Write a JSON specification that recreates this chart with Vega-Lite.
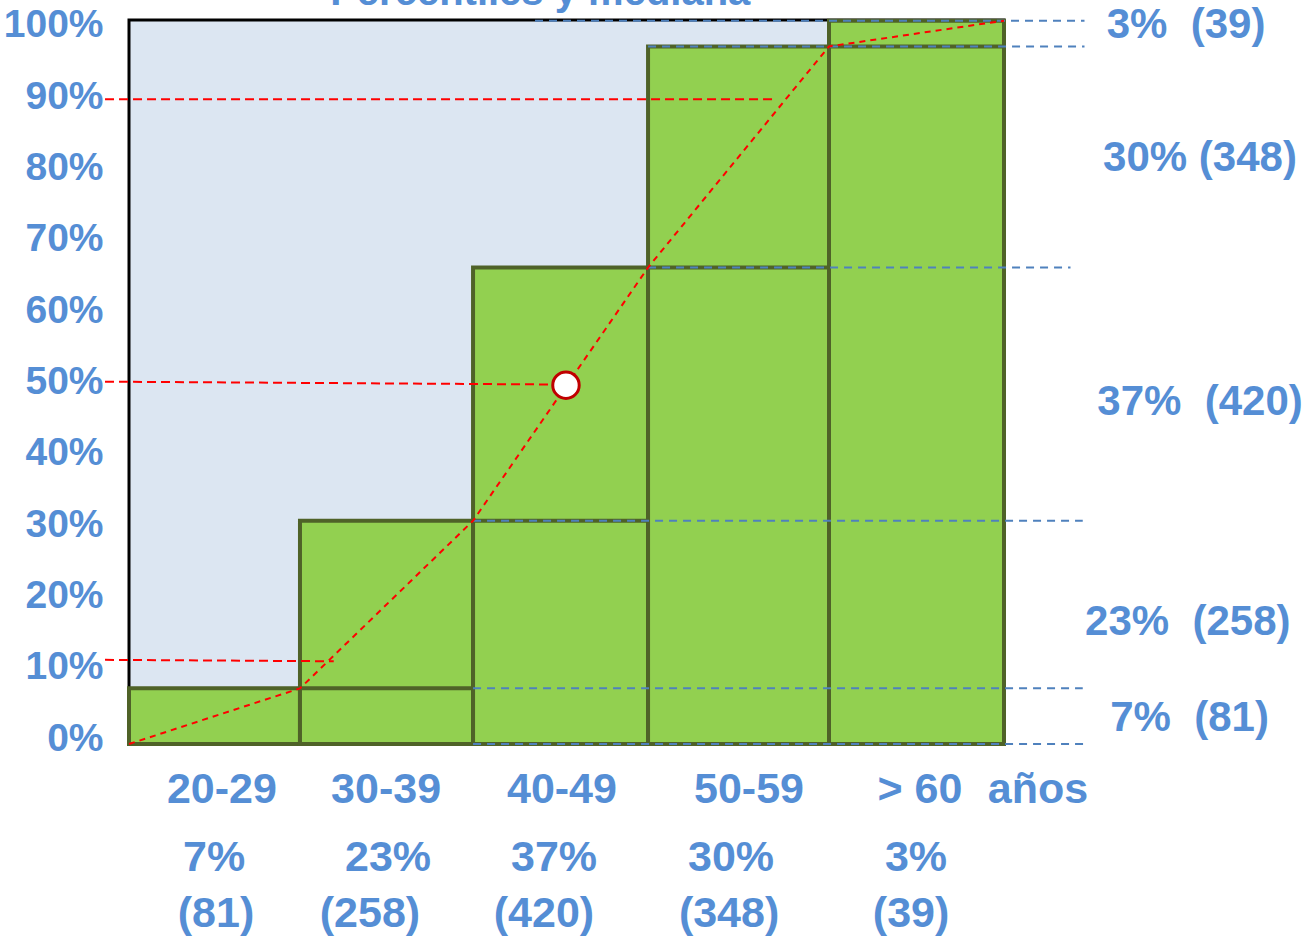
{
  "$schema": "https://vega.github.io/schema/vega-lite/v6.json",
  "autosize": "none",
  "width": 875,
  "height": 724,
  "padding": {"left": 129, "top": 20, "right": 304, "bottom": 193},
  "background": "white",
  "view": {"fill": "#DCE6F2", "stroke": "#000000", "strokeWidth": 3},
  "datasets": {
    "barras": [
      {"grupo": "20-29", "x": 0, "x2": 0.977, "y": 7},
      {"grupo": "30-39", "x": 0.977, "x2": 1.966, "y": 30.5},
      {"grupo": "40-49", "x": 1.966, "x2": 2.966, "y": 66},
      {"grupo": "50-59", "x": 2.966, "x2": 4.0, "y": 97},
      {"grupo": "> 60", "x": 4.0, "x2": 5.0, "y": 100.6}
    ],
    "divisores": [
      {"grupo": "30-39", "x": 0.977, "x2": 1.966, "y": 7},
      {"grupo": "40-49", "x": 1.966, "x2": 2.966, "y": 30.5},
      {"grupo": "50-59", "x": 2.966, "x2": 4.0, "y": 66},
      {"grupo": "> 60", "x": 4.0, "x2": 5.0, "y": 97}
    ],
    "ogive": [
      {"x": 0, "y": -0.8},
      {"x": 0.977, "y": 7},
      {"x": 1.966, "y": 30.5},
      {"x": 2.966, "y": 66},
      {"x": 4.0, "y": 97},
      {"x": 5.0, "y": 100.6}
    ],
    "percentiles": [
      {"p": "P90", "x": -0.137, "x2": 3.7, "y": 89.6, "y2": 89.6},
      {"p": "P50", "x": -0.137, "x2": 2.43, "y": 50, "y2": 49.6},
      {"p": "P10", "x": -0.137, "x2": 1.17, "y": 11, "y2": 10.8}
    ],
    "niveles": [
      {"x": 2.32, "x2": 5.46, "y": 100.6},
      {"x": 2.966, "x2": 5.46, "y": 97},
      {"x": 2.966, "x2": 5.38, "y": 66},
      {"x": 1.966, "x2": 5.45, "y": 30.5},
      {"x": 1.966, "x2": 5.45, "y": 7},
      {"x": 1.966, "x2": 5.46, "y": -0.8}
    ],
    "mediana": [{"x": 2.497, "y": 49.5}],
    "derecha": [
      {"t": "3%\u00a0 (39)", "x": 6.04, "y": 100.0},
      {"t": "30% (348)", "x": 6.12, "y": 81.35},
      {"t": "37%\u00a0 (420)", "x": 6.12, "y": 47.15},
      {"t": "23%\u00a0 (258)", "x": 6.05, "y": 16.3},
      {"t": "7%\u00a0 (81)", "x": 6.06, "y": 2.85}
    ],
    "abajo": [
      {"t": "20-29", "x": 0.531, "y": -7.25},
      {"t": "30-39", "x": 1.469, "y": -7.25},
      {"t": "40-49", "x": 2.474, "y": -7.25},
      {"t": "50-59", "x": 3.543, "y": -7.25},
      {"t": "> 60", "x": 4.52, "y": -7.25},
      {"t": "años", "x": 5.194, "y": -7.25},
      {"t": "7%", "x": 0.486, "y": -16.8},
      {"t": "23%", "x": 1.48, "y": -16.8},
      {"t": "37%", "x": 2.429, "y": -16.8},
      {"t": "30%", "x": 3.44, "y": -16.8},
      {"t": "3%", "x": 4.497, "y": -16.8},
      {"t": "(81)", "x": 0.497, "y": -24.7},
      {"t": "(258)", "x": 1.377, "y": -24.7},
      {"t": "(420)", "x": 2.371, "y": -24.7},
      {"t": "(348)", "x": 3.429, "y": -24.7},
      {"t": "(39)", "x": 4.469, "y": -24.7}
    ],
    "titulo": [{"t": "Percentiles y mediana", "x": 2.35, "y": 102.8}]
  },
  "encoding": {
    "x": {"field": "x", "type": "quantitative", "scale": {"domain": [0, 5], "nice": false, "zero": false}, "axis": null},
    "y": {"field": "y", "type": "quantitative", "title": null,
      "scale": {"domain": [-0.8, 100.7], "nice": false, "zero": false},
      "axis": {"values": [0, 10, 20, 30, 40, 50, 60, 70, 80, 90, 100], "labelExpr": "datum.value + '%'", "domain": false, "ticks": false, "grid": false,
        "labelFont": "Liberation Sans", "labelFontSize": 39, "labelFontWeight": "bold", "labelColor": "#558ED5", "labelPadding": 26,
        "labelOverlap": false, "labelFlush": false, "labelBound": false}}
  },
  "layer": [
    {
      "data": {"name": "barras"},
      "mark": {"type": "bar", "fill": "#92D050", "stroke": "#4F6228", "strokeWidth": 4},
      "encoding": {"x2": {"field": "x2"}, "y2": {"datum": -0.8}}
    },
    {
      "data": {"name": "divisores"},
      "mark": {"type": "bar", "fill": "#92D050", "stroke": "#4F6228", "strokeWidth": 4},
      "encoding": {"x2": {"field": "x2"}, "y2": {"datum": -0.8}}
    },
    {
      "data": {"name": "niveles"},
      "mark": {"type": "rule", "stroke": "#4F81BD", "strokeWidth": 2, "strokeDash": [8, 6]},
      "encoding": {"x2": {"field": "x2"}}
    },
    {
      "data": {"name": "percentiles"},
      "mark": {"type": "rule", "stroke": "#FF0000", "strokeWidth": 2, "strokeDash": [9, 5]},
      "encoding": {"x2": {"field": "x2"}, "y2": {"field": "y2"}}
    },
    {
      "data": {"name": "ogive"},
      "mark": {"type": "line", "stroke": "#FF0000", "strokeWidth": 2, "strokeDash": [6, 5]},
      "encoding": {}
    },
    {
      "data": {"name": "mediana"},
      "mark": {"type": "point", "shape": "circle", "filled": false, "fill": "#FFFFFF", "fillOpacity": 1, "stroke": "#C00000", "strokeWidth": 3, "size": 700, "opacity": 1}
    },
    {
      "data": {"name": "abajo"},
      "mark": {"type": "text", "font": "Liberation Sans", "fontSize": 43, "fontWeight": "bold", "fill": "#558ED5", "align": "center", "baseline": "middle"},
      "encoding": {"text": {"field": "t"}}
    },
    {
      "data": {"name": "derecha"},
      "mark": {"type": "text", "font": "Liberation Sans", "fontSize": 42, "fontWeight": "bold", "fill": "#558ED5", "align": "center", "baseline": "middle"},
      "encoding": {"text": {"field": "t"}}
    },
    {
      "data": {"name": "titulo"},
      "mark": {"type": "text", "font": "Liberation Sans", "fontSize": 40, "fontWeight": "bold", "fill": "#558ED5", "align": "center", "baseline": "alphabetic"},
      "encoding": {"text": {"field": "t"}}
    }
  ]
}
